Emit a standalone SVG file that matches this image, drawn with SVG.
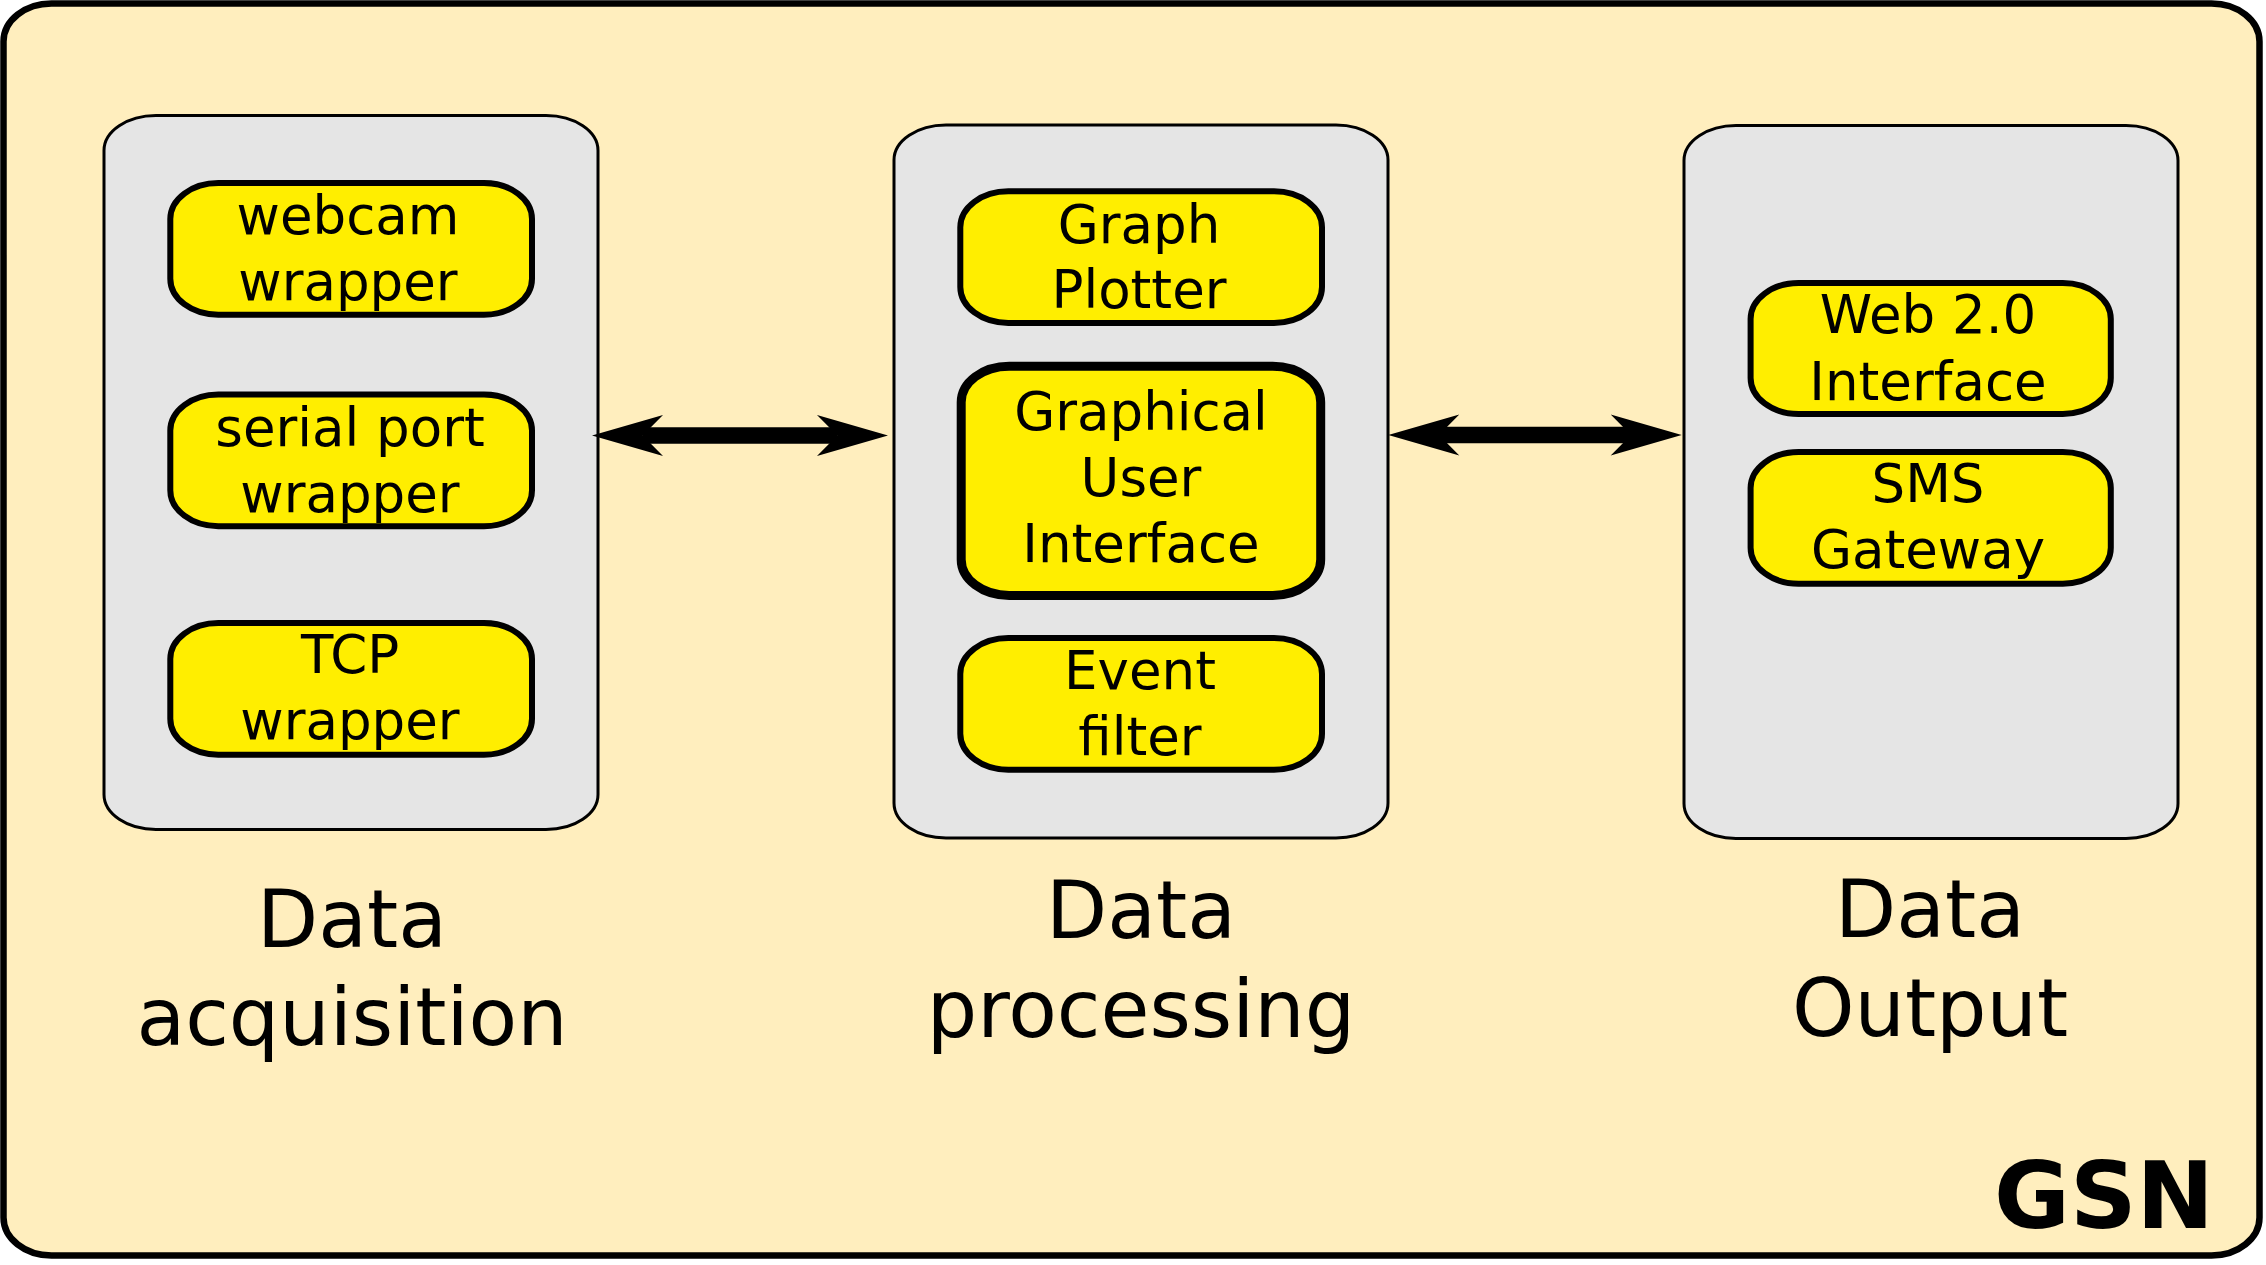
<svg xmlns="http://www.w3.org/2000/svg" width="2266" height="1265" viewBox="0 0 2266 1265">
<style>
.frame{fill:#ffeebe;stroke:#000;stroke-width:6.5}
.group{fill:#e5e5e5;stroke:#000;stroke-width:3}
.box{fill:#ffee00;stroke:#000;stroke-width:6}
.box.thick{stroke-width:9}
.t{font-family:"DejaVu Sans","Liberation Sans",sans-serif;font-size:53px;text-anchor:middle;fill:#000}
.lbl{font-family:"DejaVu Sans","Liberation Sans",sans-serif;font-size:79.5px;text-anchor:middle;fill:#000}
.gsn{font-family:"DejaVu Sans","Liberation Sans",sans-serif;font-size:92.5px;font-weight:bold;text-anchor:middle;fill:#000}
.conn{stroke:#000;stroke-width:16.5;fill:none}
</style>
<defs>
<marker id="arr" markerUnits="userSpaceOnUse" viewBox="-25 -25 80 50" refX="0" refY="0" markerWidth="80" markerHeight="50" orient="auto-start-reverse" overflow="visible">
<path d="M 50.7 0 L -20.3 -20.5 L 0 0 L -20.3 20.5 Z" fill="#000"/>
</marker>
</defs>
<rect id="gsn-frame" class="frame" x="3.5" y="3.5" width="2256" height="1252" rx="48" ry="38"/>
<g id="acquisition">
<rect class="group" x="104" y="115.5" width="494" height="714" rx="52" ry="35"/>
<text class="lbl" x="352" y="947">Data</text>
<text class="lbl" x="352" y="1045">acquisition</text>
</g>
<g id="processing">
<rect class="group" x="894" y="125" width="494" height="713" rx="52" ry="35"/>
<text class="lbl" x="1141" y="938">Data</text>
<text class="lbl" x="1141" y="1037">processing</text>
</g>
<g id="output">
<rect class="group" x="1684" y="125.5" width="494" height="713" rx="52" ry="35"/>
<text class="lbl" x="1930" y="937">Data</text>
<text class="lbl" x="1930" y="1036">Output</text>
</g>
<g id="webcam">
<rect class="box" x="170.3" y="183" width="361.7" height="131.7" rx="48" ry="36"/>
<text class="t" x="348" y="234">webcam</text>
<text class="t" x="348" y="300">wrapper</text>
</g>
<g id="serial">
<rect class="box" x="170.3" y="394.5" width="361.7" height="131.7" rx="48" ry="36"/>
<text class="t" x="350" y="446">serial port</text>
<text class="t" x="350" y="512">wrapper</text>
</g>
<g id="tcp">
<rect class="box" x="170.3" y="623" width="361.7" height="131.7" rx="48" ry="36"/>
<text class="t" x="350" y="673">TCP</text>
<text class="t" x="350" y="739">wrapper</text>
</g>
<g id="graph-plotter">
<rect class="box" x="960.3" y="191.3" width="361.7" height="131.7" rx="48" ry="36"/>
<text class="t" x="1139" y="243">Graph</text>
<text class="t" x="1139" y="308">Plotter</text>
</g>
<g id="gui">
<rect class="box thick" x="961.2" y="366.2" width="359.5" height="229.3" rx="48" ry="36"/>
<text class="t" x="1141" y="430">Graphical</text>
<text class="t" x="1141" y="496">User</text>
<text class="t" x="1141" y="562">Interface</text>
</g>
<g id="event-filter">
<rect class="box" x="960.3" y="638" width="361.7" height="131.7" rx="48" ry="36"/>
<text class="t" x="1140" y="689">Event</text>
<text class="t" x="1140" y="755">filter</text>
</g>
<g id="web20">
<rect class="box" x="1750.6" y="283" width="360.2" height="131" rx="48" ry="36"/>
<text class="t" x="1928" y="333">Web 2.0</text>
<text class="t" x="1928" y="400">Interface</text>
</g>
<g id="sms">
<rect class="box" x="1750.6" y="452" width="360.2" height="131.7" rx="48" ry="36"/>
<text class="t" x="1928" y="502">SMS</text>
<text class="t" x="1928" y="568">Gateway</text>
</g>
<g id="gsn-label">
<text class="gsn" x="2104" y="1228">GSN</text>
</g>
<g id="connectors">
<line class="conn" x1="642.7" y1="435.5" x2="837.3" y2="435.5" marker-start="url(#arr)" marker-end="url(#arr)"/>
<line class="conn" x1="1439" y1="435" x2="1631" y2="435" marker-start="url(#arr)" marker-end="url(#arr)"/>
</g>
</svg>
